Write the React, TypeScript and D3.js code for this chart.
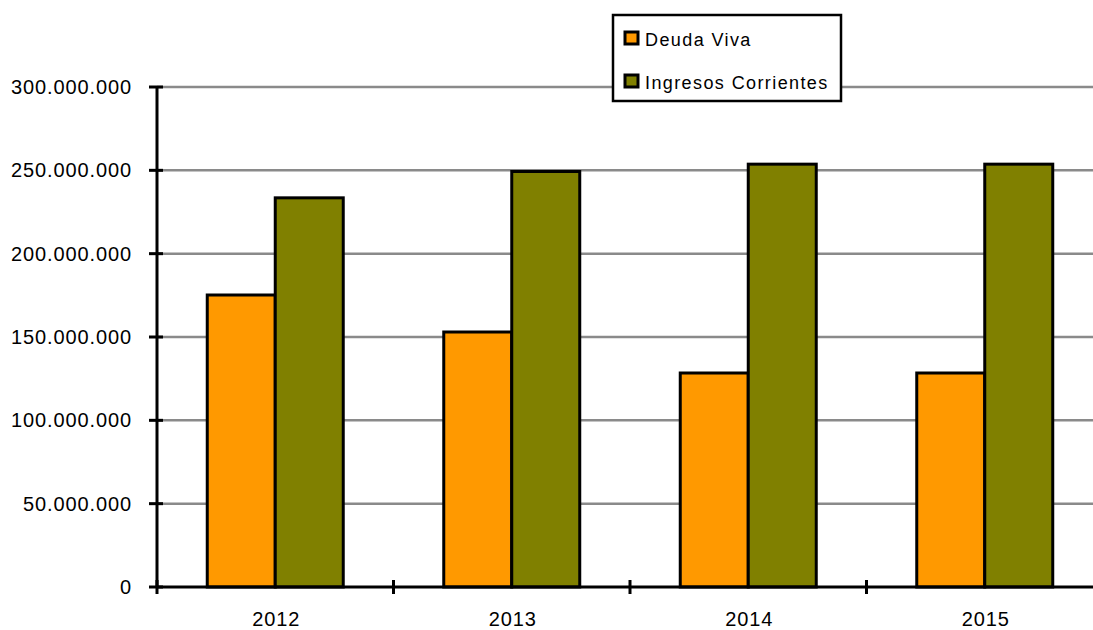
import React from "react";
import * as d3 from "d3";

const categories = ["2012", "2013", "2014", "2015"];
const seriesNames = ["Deuda Viva", "Ingresos Corrientes"];
const deudaViva = [175200000, 153000000, 128400000, 128400000];
const ingresosCorrientes = [233500000, 249300000, 253700000, 253700000];
const yTicks = [0, 50000000, 100000000, 150000000, 200000000, 250000000, 300000000];
const colors = ["#FF9900", "#808000"];

const W = 1093;
const H = 630;
const left = 157;
const right = 1103;
const top = 87;
const bottom = 587;

const fmt = (v: number) => {
  if (v === 0) return "0";
  return d3.format(",")(v).replace(/,/g, ".");
};

export default function App() {
  const x = d3.scaleBand<string>().domain(categories).range([left, right]).paddingInner(0).paddingOuter(0);
  const inner = d3.scaleBand<number>().domain([0, 1]).range([0, x.bandwidth()]).paddingInner(0).paddingOuter(0.739);
  const y = d3.scaleLinear().domain([0, 300000000]).range([bottom, top]);
  const series = [deudaViva, ingresosCorrientes];
  const font = "'Liberation Sans', Arial, sans-serif";
  const tickXs = categories.map((c) => x(c)!).concat([right]);

  return (
    <svg width={W} height={H} style={{ position: "absolute", left: 0, top: 0, background: "#fff" }}>
      {yTicks.slice(1).map((t) => (
        <line key={"g" + t} x1={left} x2={W} y1={y(t)} y2={y(t)} stroke="#8a8a8a" strokeWidth={2.5} />
      ))}
      {categories.map((c, i) =>
        series.map((s, k) => (
          <rect
            key={c + k}
            x={x(c)! + inner(k)!}
            y={y(s[i])}
            width={inner.bandwidth()}
            height={bottom - y(s[i])}
            fill={colors[k]}
            stroke="#000"
            strokeWidth={3}
          />
        ))
      )}
      <line x1={left} x2={left} y1={top} y2={bottom} stroke="#000" strokeWidth={3} />
      <line x1={left} x2={W} y1={bottom} y2={bottom} stroke="#000" strokeWidth={3} />
      {yTicks.map((t) => (
        <g key={"t" + t}>
          <line x1={left - 8} x2={left + 6} y1={y(t)} y2={y(t)} stroke="#000" strokeWidth={3} />
          <text
            x={132}
            y={y(t) + 7}
            textAnchor="end"
            fontFamily={font}
            fontSize={20}
            letterSpacing={0.9}
            fill="#000"
          >
            {fmt(t)}
          </text>
        </g>
      ))}
      {tickXs.map((tx, i) => (
        <line key={"xt" + i} x1={tx} x2={tx} y1={bottom - 7} y2={bottom + 7} stroke="#000" strokeWidth={3} />
      ))}
      {categories.map((c) => (
        <text
          key={"xl" + c}
          x={x(c)! + x.bandwidth() / 2 + 1}
          y={626}
          textAnchor="middle"
          fontFamily={font}
          fontSize={20}
          letterSpacing={0.9}
          fill="#000"
        >
          {c}
        </text>
      ))}
      <g>
        <rect x={613} y={15} width={228} height={86} fill="#fff" stroke="#000" strokeWidth={2.5} />
        {seriesNames.map((n, k) => (
          <g key={n}>
            <rect x={625} y={32 + k * 43} width={13} height={12} fill={colors[k]} stroke="#000" strokeWidth={3} />
            <text x={645} y={46 + k * 43} fontFamily={font} fontSize={18} letterSpacing={1.4} fill="#000">
              {n}
            </text>
          </g>
        ))}
      </g>
    </svg>
  );
}
